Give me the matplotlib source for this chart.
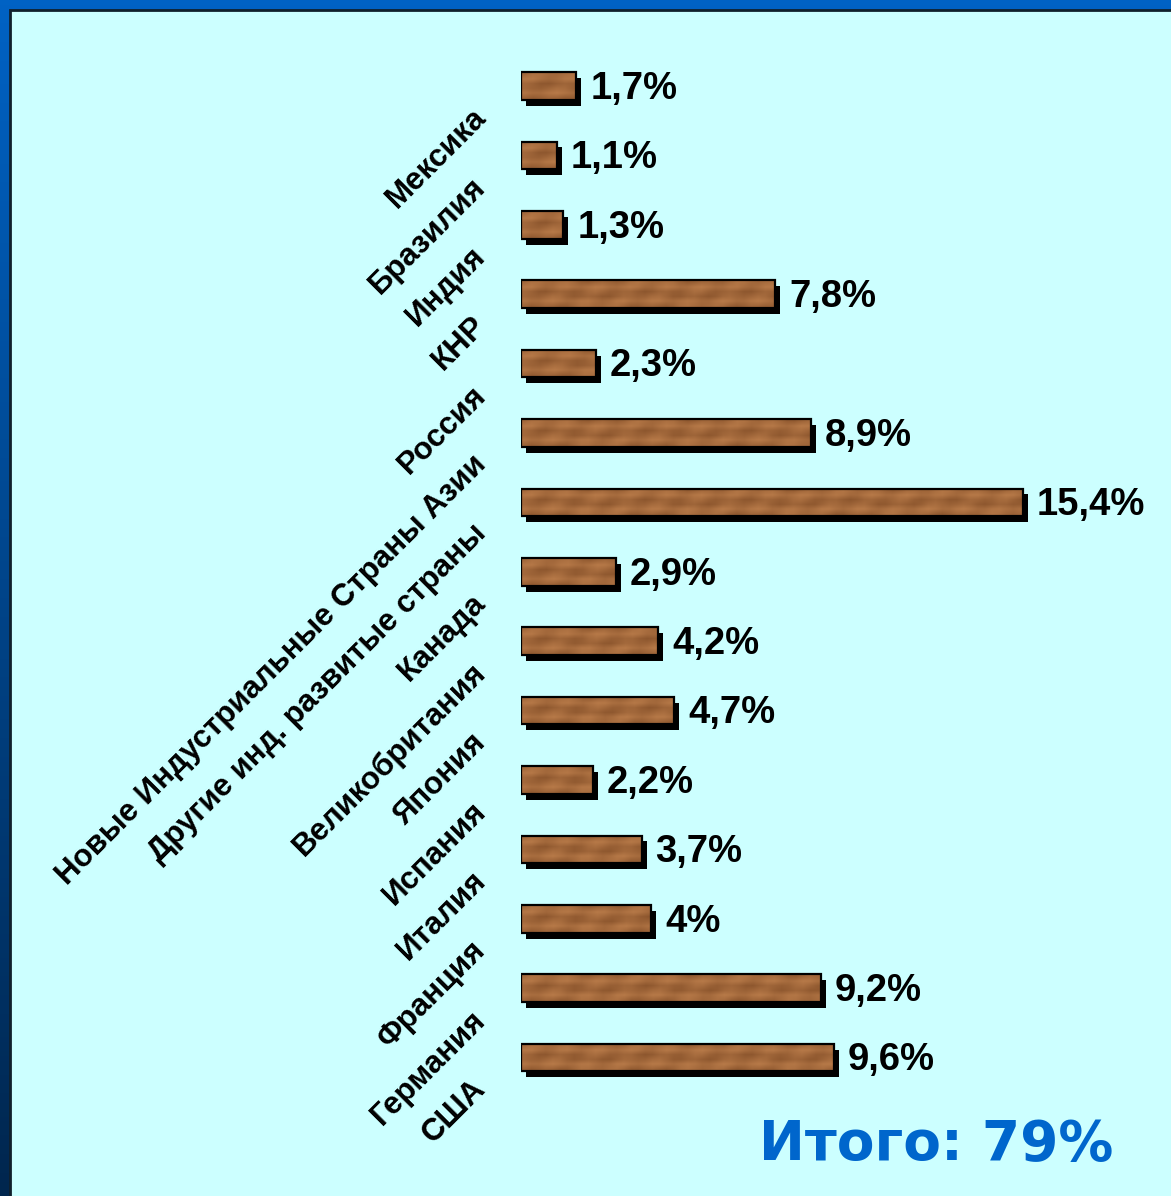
"""Доля стран в мировом ВВП — horizontal wood-texture bars on a cyan slide panel."""
import numpy as np
import matplotlib
matplotlib.use("Agg")
import matplotlib.pyplot as plt
import matplotlib.patheffects as pe
from matplotlib.patches import Rectangle

countries = [
    "Мексика", "Бразилия", "Индия", "КНР", "Россия",
    "Новые Индустриальные Страны Азии", "Другие инд. развитые страны",
    "Канада", "Великобритания", "Япония", "Испания", "Италия",
    "Франция", "Германия", "США",
]
shares = [1.7, 1.1, 1.3, 7.8, 2.3, 8.9, 15.4, 2.9, 4.2, 4.7, 2.2, 3.7, 4.0, 9.2, 9.6]
total_label = "Итого: 79%"

_PANEL = "#ccffff"
_TEXT = "#000000"
_TOTAL = "#0066cc"
_WOOD_DARK = np.array([138, 84, 44]) / 255
_WOOD_LIGHT = np.array([186, 124, 74]) / 255

W, H = 1171, 1196
fig = plt.figure(figsize=(W / 100, H / 100), dpi=100)

# slide background: blue frame darkening towards the bottom
bg = fig.add_axes([0, 0, 1, 1])
bg.set_axis_off()
grad = np.linspace(0, 1, 256)[:, None, None]
top = np.array([0, 98, 196]) / 255
bot = np.array([0, 38, 78]) / 255
bg.imshow(top + (bot - top) * grad, aspect="auto", extent=[0, 1, 0, 1])
bg.set_xlim(0, 1)
bg.set_ylim(0, 1)
bg.add_patch(Rectangle((10 / W, -0.01), 1, 1 - 10 / H + 0.01, facecolor=_PANEL,
                       edgecolor="#10202c", linewidth=2))

# bar axes: 0 at x=521px, ~32.6 px per percent; row pitch ~69.4 px
ax = fig.add_axes([521 / W, 1 - 1092.3 / H, (W - 521) / W, (1092.3 - 51.3) / H])
ax.set_axis_off()
ax.set_xlim(0, (W - 521) / 32.6)
ax.set_ylim(len(shares) - 0.5, -0.5)

ypos = np.arange(len(shares))
bar_h = 0.40
bars = ax.barh(ypos, shares, height=bar_h, color=tuple(_WOOD_DARK), linewidth=0,
               zorder=2)
for b in bars:
    b.set_path_effects([pe.SimplePatchShadow(offset=(3.6, -4.2), shadow_rgbFace="k",
                                             alpha=1.0), pe.Normal()])

# simple deterministic wood grain, clipped to each bar
for b, v in zip(bars, shares):
    ncols = max(2, int(v * 32.6 / 7))
    rows = np.arange(6)[:, None]
    cols = np.arange(ncols)[None, :]
    t = 0.5 + 0.28 * np.sin(rows * 1.9 + 0.6 * np.sin(cols * 0.45)) \
        + 0.18 * np.sin(cols * 1.3 + rows * 0.7)
    t = np.clip(t, 0, 1)[..., None]
    tex = _WOOD_DARK + (_WOOD_LIGHT - _WOOD_DARK) * t
    y0 = b.get_y()
    im = ax.imshow(tex, aspect="auto", interpolation="bilinear",
                   extent=[0, v, y0 + bar_h, y0], zorder=3)
    im.set_clip_path(b)

ax.barh(ypos, shares, height=bar_h, fill=False, edgecolor="k", linewidth=1.6, zorder=4)

for y, v in zip(ypos, shares):
    ax.text(v + 0.43, y + 0.04, f"{v:g}".replace(".", ",") + "%", ha="left",
            va="center", fontsize=27.5, fontweight="bold", family="Liberation Sans",
            color=_TEXT, zorder=5)

# rotated category labels, set a little below each bar as on the slide
lab_tr = ax.get_yaxis_transform()
for y, name in zip(ypos, countries):
    ax.text(-34 / (W - 521), y + 0.47, name, transform=lab_tr, rotation=45,
            rotation_mode="anchor", ha="right", va="baseline", fontsize=22.5,
            fontweight="bold", family="Liberation Sans", color=_TEXT, clip_on=False)

fig.text(936 / W, 1 - 1145 / H, total_label, ha="center", va="center",
         fontsize=39.5, fontweight="bold", family="DejaVu Sans", color=_TOTAL)

fig.savefig("out.png", dpi=100)
plt.close(fig)
